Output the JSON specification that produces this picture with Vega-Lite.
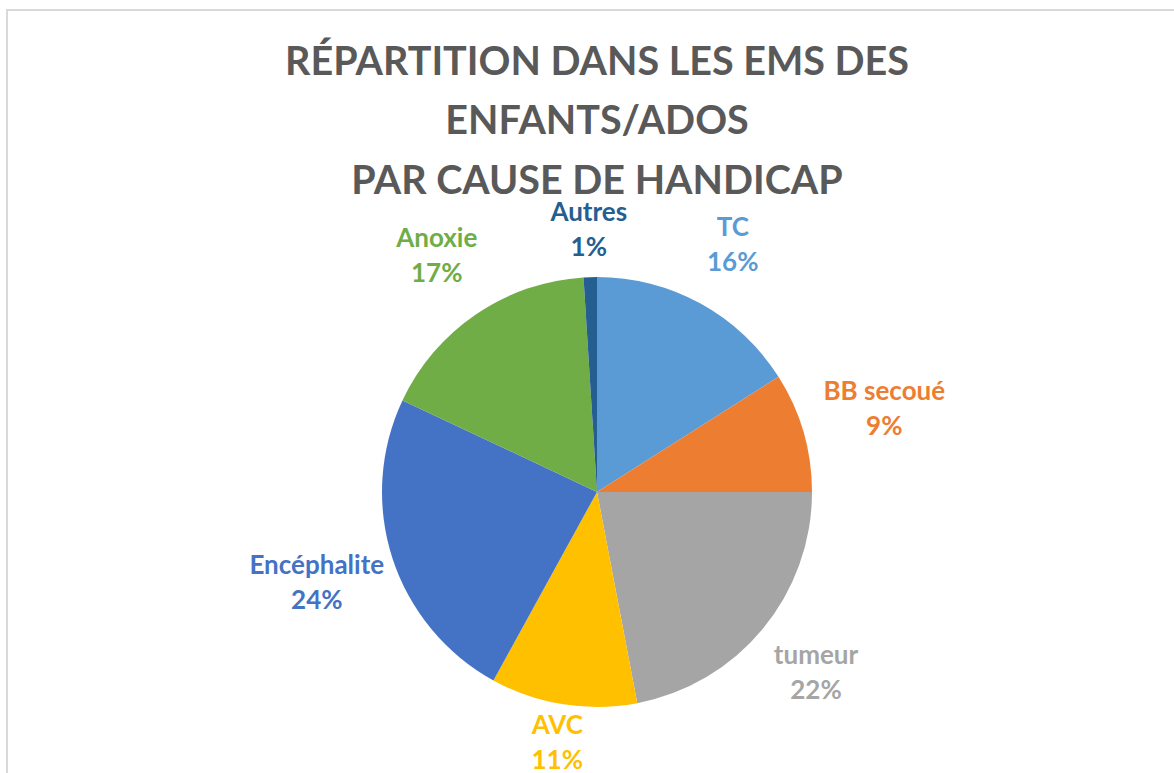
{
  "$schema": "https://vega.github.io/schema/vega-lite/v6.json",
  "width": 1180,
  "height": 964,
  "autosize": {"type": "none"},
  "padding": {"left": 7, "top": 10, "right": 0, "bottom": 0},
  "background": "white",
  "view": {"stroke": "#d9d9d9", "strokeWidth": 2},
  "title": {
    "text": ["RÉPARTITION DANS LES EMS DES", "ENFANTS/ADOS", "PAR CAUSE DE HANDICAP"],
    "orient": "top",
    "anchor": "middle",
    "frame": "group",
    "offset": -192,
    "font": "Lato",
    "fontSize": 39.5,
    "fontWeight": "bold",
    "color": "#595959",
    "lineHeight": 59.5
  },
  "data": {
    "values": [
      {"idx": 1, "cause": "TC", "share": 0.16},
      {"idx": 2, "cause": "BB secoué", "share": 0.09},
      {"idx": 3, "cause": "tumeur", "share": 0.22},
      {"idx": 4, "cause": "AVC", "share": 0.11},
      {"idx": 5, "cause": "Encéphalite", "share": 0.24},
      {"idx": 6, "cause": "Anoxie", "share": 0.17},
      {"idx": 7, "cause": "Autres", "share": 0.01}
    ]
  },
  "encoding": {
    "theta": {"field": "share", "type": "quantitative", "stack": true},
    "order": {"field": "idx", "type": "quantitative"},
    "color": {
      "field": "cause",
      "type": "nominal",
      "scale": {
        "domain": ["TC", "BB secoué", "tumeur", "AVC", "Encéphalite", "Anoxie", "Autres"],
        "range": ["#5B9BD5", "#ED7D31", "#A5A5A5", "#FFC000", "#4472C4", "#70AD47", "#255E91"]
      },
      "legend": null
    }
  },
  "layer": [
    {"mark": {"type": "arc", "radius": 215, "stroke": null}},
    {
      "mark": {"type": "text", "dy": -17, "font": "Lato", "fontSize": 26, "fontWeight": "bold", "baseline": "middle", "align": "center"},
      "encoding": {
        "text": {"field": "cause", "type": "nominal"},
        "radius": {"value": {"expr": "254 + 45 * abs(sin(scale('theta', (datum.share_start + datum.share_end) / 2))) + 7 * cos(scale('theta', (datum.share_start + datum.share_end) / 2))"}}
      }
    },
    {
      "mark": {"type": "text", "dy": 18, "font": "Lato", "fontSize": 26, "fontWeight": "bold", "baseline": "middle", "align": "center"},
      "encoding": {
        "text": {"field": "share", "type": "quantitative", "format": ".0%"},
        "radius": {"value": {"expr": "254 + 45 * abs(sin(scale('theta', (datum.share_start + datum.share_end) / 2))) + 7 * cos(scale('theta', (datum.share_start + datum.share_end) / 2))"}}
      }
    }
  ]
}
